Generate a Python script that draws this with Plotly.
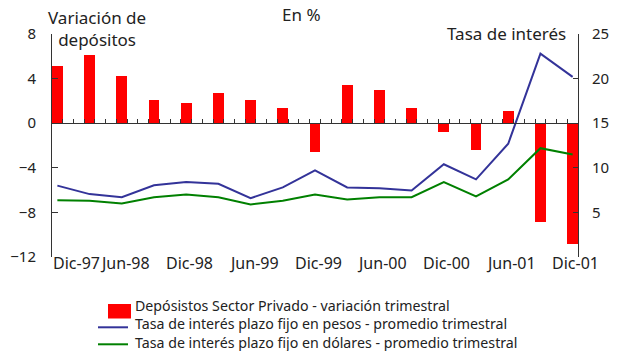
import plotly.graph_objects as go

# Quarterly series, Dec-1997 to Dec-2001
quarters = ["Dic-97", "Mar-98", "Jun-98", "Sep-98", "Dic-98", "Mar-99", "Jun-99",
            "Sep-99", "Dic-99", "Mar-00", "Jun-00", "Sep-00", "Dic-00", "Mar-01",
            "Jun-01", "Sep-01", "Dic-01"]
depositos = [5.1, 6.1, 4.2, 2.1, 1.8, 2.7, 2.1, 1.4, -2.6, 3.4, 3.0, 1.35,
             -0.8, -2.4, 1.1, -8.9, -10.8]
tasa_pesos = [8.0, 7.05, 6.7, 8.05, 8.4, 8.2, 6.6, 7.8, 9.7, 7.8, 7.7, 7.45,
              10.4, 8.7, 12.7, 22.8, 20.2]
tasa_dolares = [6.35, 6.3, 6.0, 6.7, 7.0, 6.7, 5.9, 6.3, 7.0, 6.45, 6.7, 6.7,
                8.4, 6.8, 8.7, 12.2, 11.5]
tick_labels = ["Dic-97", "Jun-98", "Dic-98", "Jun-99", "Dic-99", "Jun-00",
               "Dic-00", "Jun-01", "Dic-01"]
right_ticks = [5, 10, 15, 20, 25]
series_names = ["Depósistos Sector Privado - variación trimestral",
                "Tasa de interés plazo fijo en pesos - promedio trimestral",
                "Tasa de interés plazo fijo en dólares - promedio trimestral"]

RED, BLUE, GREEN = "#FF0000", "#333399", "#008000"

# the time axis runs in months; each quarter sits on its closing month
MONTHS = 3
x_month = [i * MONTHS for i in range(len(quarters))]
label_months = x_month[::2]
x_range = [x_month[0] - 0.5, x_month[-1] + 0.5]

left_range = [-12, 8]
right_range = [0, 25]
zero_pos = (0 - left_range[0]) / (left_range[1] - left_range[0])

W, H = 623, 351
ML, MR, MT, MB = 52, 45, 34, 94
PW, PH = W - ML - MR, H - MT - MB


def px_x(px):
    return (px - ML) / PW


def px_y(py):
    return (H - MB - py) / PH


FONT = "Noto Sans"
AXIS_COLOR = "#333333"
TEXT_COLOR = "#222222"

fig = go.Figure()
fig.add_trace(go.Bar(
    x=x_month, y=depositos, width=1, marker_color=RED, marker_line_width=0,
    name=series_names[0],
))
fig.add_trace(go.Scatter(
    x=x_month, y=tasa_pesos, mode="lines", yaxis="y2",
    line=dict(color=BLUE, width=2), name=series_names[1],
))
fig.add_trace(go.Scatter(
    x=x_month, y=tasa_dolares, mode="lines", yaxis="y2",
    line=dict(color=GREEN, width=2), name=series_names[2],
))

# half-year date labels along the bottom edge, placed on the month scale;
# the first one starts at the axis so it clears the left tick labels
date_annotations = []
for i, (month, text) in enumerate(zip(label_months, tick_labels)):
    first = i == 0
    date_annotations.append(dict(
        text=text, x=x_range[0] if first else month, y=px_y(262.5),
        xref="x", yref="paper", xanchor="left" if first else "center",
        xshift=0 if first else 3,
        yanchor="middle", showarrow=False, borderpad=0,
        font=dict(size=16, color=TEXT_COLOR),
    ))

# legend drawn as key shapes plus one block of text lines
shapes = [
    dict(type="rect", xref="paper", yref="paper",
         x0=px_x(108), x1=px_x(131), y0=px_y(304), y1=px_y(318.5),
         fillcolor=RED, line_width=0),
    dict(type="line", xref="paper", yref="paper",
         x0=px_x(98), x1=px_x(128), y0=px_y(327.3), y1=px_y(327.3),
         line=dict(color=BLUE, width=2)),
    dict(type="line", xref="paper", yref="paper",
         x0=px_x(98), x1=px_x(128), y0=px_y(344.3), y1=px_y(344.3),
         line=dict(color=GREEN, width=2)),
]
legend_annotation = dict(
    text="<br>".join(series_names), x=px_x(134), y=px_y(324), xref="paper",
    yref="paper", xanchor="left", yanchor="middle", align="left",
    showarrow=False, borderpad=0, font=dict(size=14.2, color=TEXT_COLOR),
)

fig.update_layout(
    width=W, height=H,
    margin=dict(l=ML, r=MR, t=MT, b=MB, autoexpand=False),
    paper_bgcolor="white", plot_bgcolor="white",
    font=dict(family=FONT, size=15, color=TEXT_COLOR),
    showlegend=False,
    bargap=0,
    # month ticks along the zero line
    xaxis=dict(
        range=x_range, anchor="free", position=zero_pos,
        showline=True, linecolor=AXIS_COLOR, linewidth=1,
        ticks="inside", ticklen=4, tickcolor=AXIS_COLOR,
        tick0=0.5, dtick=1, showticklabels=False, showgrid=False, zeroline=False,
    ),
    yaxis=dict(
        range=left_range, dtick=4, tick0=0,
        showline=True, linecolor=AXIS_COLOR, linewidth=1,
        ticks="inside", ticklen=6, tickcolor=AXIS_COLOR,
        showgrid=False, zeroline=False, ticklabelstandoff=12,
        tickfont=dict(size=15),
    ),
    yaxis2=dict(
        range=right_range, overlaying="y", side="right",
        tickmode="array", tickvals=right_ticks,
        showline=True, linecolor=AXIS_COLOR, linewidth=1,
        ticks="inside", ticklen=5, tickcolor=AXIS_COLOR,
        showgrid=False, zeroline=False, ticklabelstandoff=10,
        tickfont=dict(size=15),
    ),
    shapes=shapes,
    annotations=[
        dict(text="En %", x=px_x(301), y=px_y(15), xref="paper", yref="paper",
             xanchor="center", yanchor="middle", showarrow=False,
             font=dict(size=17)),
        dict(text="Variación de<br>depósitos", x=px_x(97), y=px_y(29),
             xref="paper", yref="paper", xanchor="center", yanchor="middle",
             showarrow=False, font=dict(size=17)),
        dict(text="Tasa de interés", x=px_x(568), y=px_y(33), xref="paper",
             yref="paper", xanchor="right", yanchor="middle", showarrow=False,
             font=dict(size=17)),
        legend_annotation,
    ] + date_annotations,
)

fig.write_html("out.html")
